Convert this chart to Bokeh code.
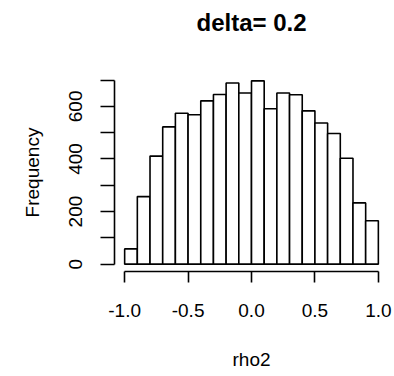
from bokeh.plotting import figure
from bokeh.models import Range1d, FixedTicker, LinearAxis
from bokeh.embed import file_html
from bokeh.resources import INLINE

# Data
bin_left = [-1.0, -0.9, -0.8, -0.7, -0.6, -0.5, -0.4, -0.3, -0.2, -0.1,
            0.0, 0.1, 0.2, 0.3, 0.4, 0.5, 0.6, 0.7, 0.8, 0.9]
bin_right = [-0.9, -0.8, -0.7, -0.6, -0.5, -0.4, -0.3, -0.2, -0.1, 0.0,
             0.1, 0.2, 0.3, 0.4, 0.5, 0.6, 0.7, 0.8, 0.9, 1.0]
counts = [58, 257, 411, 522, 574, 568, 621, 645, 689, 651,
          697, 591, 651, 644, 583, 537, 497, 403, 233, 165]
x_ticks = [-1.0, -0.5, 0.0, 0.5, 1.0]
x_tick_labels = ["-1.0", "-0.5", "0.0", "0.5", "1.0"]
y_ticks = [0, 100, 200, 300, 400, 500, 600, 700]
y_tick_labels = ["0", "", "200", "", "400", "", "600", ""]
title_text = "delta= 0.2"

FONT = "Liberation Sans"

p = figure(width=394, height=376, output_backend="svg", toolbar_location=None,
           x_range=Range1d(-1.08, 1.08), y_range=Range1d(-27.9, 725),
           min_border_left=114, min_border_right=6,
           min_border_top=73, min_border_bottom=105)
p.outline_line_color = None
p.xgrid.visible = False
p.ygrid.visible = False
p.background_fill_color = "white"
p.border_fill_color = "white"

p.quad(left=bin_left, right=bin_right, bottom=0, top=counts,
       fill_color="white", line_color="black", line_width=1.6)

xa = p.below[0]
ya = p.left[0]

# main title: label of a tick-less, line-less axis above the plot
title_axis = LinearAxis(ticker=FixedTicker(ticks=[]), axis_line_color=None,
                        major_tick_line_color=None, minor_tick_line_color=None,
                        major_tick_out=0, major_tick_in=0, minor_tick_out=0,
                        minor_tick_in=0, major_label_standoff=0,
                        axis_label=title_text, axis_label_standoff=38,
                        axis_label_text_font=FONT,
                        axis_label_text_font_size="24px",
                        axis_label_text_font_style="bold",
                        axis_label_text_color="black")
p.add_layout(title_axis, "above")

xa.ticker = FixedTicker(ticks=x_ticks)
xa.major_label_overrides = {v: s for v, s in zip(x_ticks, x_tick_labels)}
xa.bounds = (-1.0, 1.0)
xa.axis_label = "rho2"

ya.ticker = FixedTicker(ticks=y_ticks)
ya.major_label_overrides = {v: s for v, s in zip(y_ticks, y_tick_labels)}
ya.bounds = (0, 700)
ya.axis_label = "Frequency"
ya.major_label_orientation = "vertical"

for ax in (xa, ya):
    ax.axis_line_color = "black"
    ax.axis_line_width = 1.6
    ax.major_tick_line_color = "black"
    ax.major_tick_line_width = 1.6
    ax.major_tick_in = 0
    ax.minor_tick_line_color = None
    ax.major_label_text_font = FONT
    ax.major_label_text_font_size = "19px"
    ax.major_label_text_color = "black"
    ax.axis_label_text_font = FONT
    ax.axis_label_text_font_size = "19px"
    ax.axis_label_text_font_style = "normal"
    ax.axis_label_text_color = "black"

xa.major_tick_out = 11
xa.major_label_standoff = 21
xa.axis_label_standoff = 29
ya.major_tick_out = 14
ya.major_label_standoff = 18
ya.axis_label_standoff = 24

open("out.html", "w").write(file_html(p, INLINE))
